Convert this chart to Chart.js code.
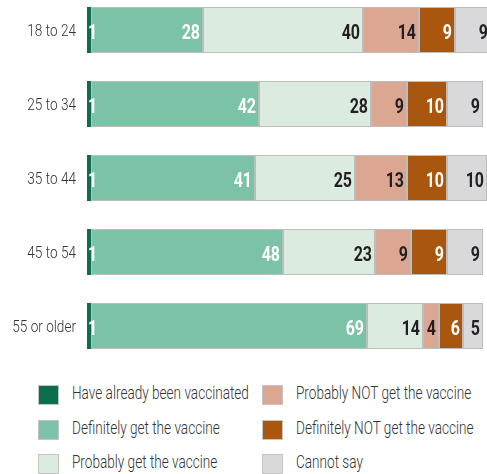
<!DOCTYPE html>
<html>
<head>
<meta charset="utf-8">
<script src="https://cdn.jsdelivr.net/npm/chart.js@4.4.1/dist/chart.umd.min.js"></script>
<style>
  html, body { margin: 0; padding: 0; background: #fff; overflow: hidden; width: 487px; height: 474px; }
  #graf { position: absolute; left: 0; top: -7px; }
  #leyenda { position: absolute; left: 38px; top: 385px; width: 449px; font-family: Roboto, sans-serif; font-weight: 300; font-size: 18px; color: #333; }
  .item { position: absolute; height: 20px; line-height: 20px; white-space: nowrap; }
  .cuadro { position: absolute; left: 0; top: 0; width: 21px; height: 20px; border: 1px solid #c4c4c4; box-sizing: border-box; }
  .texto { position: absolute; left: 34px; top: -2px; transform: scaleX(0.755); transform-origin: left center; }
</style>
</head>
<body>
<canvas id="graf" width="487" height="370"></canvas>
<div id="leyenda"></div>
<script>
/*Datos*/
const grupos = ["18 to 24", "25 to 34", "35 to 44", "45 to 54", "55 or older"]
const series = ["Have already been vaccinated", "Definitely get the vaccine", "Probably get the vaccine",
  "Probably NOT get the vaccine", "Definitely NOT get the vaccine", "Cannot say"]
const yaVacunado = [1, 1, 1, 1, 1]
const definitivamenteSi = [28, 42, 41, 48, 69]
const probablementeSi = [40, 28, 25, 23, 14]
const probablementeNo = [14, 9, 13, 9, 4]
const definitivamenteNo = [9, 10, 10, 9, 6]
const noSabe = [9, 9, 10, 9, 5]

const valores = [yaVacunado, definitivamenteSi, probablementeSi, probablementeNo, definitivamenteNo, noSabe]
const colores = ["#0b6e4f", "#7cc2a7", "#dcebdf", "#dba793", "#a9570e", "#d9d9db"]
const blancos = [true, true, false, false, true, false]

//texto comprimido a lo ancho
function TextoEstrecho(ctx, txt, x, y, alinear, factor) {
  ctx.save()
  ctx.translate(x, y)
  ctx.scale(factor, 1)
  ctx.textAlign = alinear
  ctx.fillText(txt, 0, 0)
  ctx.restore()
}

//etiquetas de grupos y valores dentro de cada barra
const etiquetas = {
  id: "etiquetas",
  afterDatasetsDraw(chart) {
    const ctx = chart.ctx
    const ejeY = chart.scales.y
    ctx.save()
    ctx.textBaseline = "alphabetic"
    ctx.font = "300 16px Roboto, sans-serif"
    ctx.fillStyle = "#333333"
    grupos.forEach((g, j) => {
      TextoEstrecho(ctx, g, 76, ejeY.getPixelForValue(j) + 5.5, "right", 0.85)
    })
    ctx.font = "bold 20px Roboto, sans-serif"
    chart.data.datasets.forEach((ds, i) => {
      let meta = chart.getDatasetMeta(i)
      meta.data.forEach((barra, j) => {
        ctx.fillStyle = blancos[i] ? "#ffffff" : "#231f20"
        if (i == 0) {
          TextoEstrecho(ctx, ds.data[j], barra.base + 1, barra.y + 8.5, "left", 0.8)
        } else {
          TextoEstrecho(ctx, ds.data[j], barra.x - 3, barra.y + 8.5, "right", 0.8)
        }
      })
    })
    ctx.restore()
  }
}

let graf = new Chart("graf", {
  type: "bar",
  data: {
    labels: grupos,
    datasets: series.map((s, i) => ({
      label: s,
      data: valores[i],
      backgroundColor: colores[i],
      borderColor: "#bdbdbd",
      borderWidth: i == 0 ? 0 : 1,
      borderSkipped: false,
      barPercentage: 0.622,
      categoryPercentage: 1,
      clip: false
    }))
  },
  options: {
    indexAxis: "y",
    responsive: false,
    animation: false,
    layout: { padding: 0 },
    plugins: { legend: { display: false }, tooltip: { enabled: false } },
    scales: {
      x: { stacked: true, min: 0, max: 100, display: false },
      y: {
        stacked: true,
        grid: { display: false },
        border: { display: false },
        ticks: { display: false },
        afterFit(eje) {
          eje.width = 87
          eje.paddingTop = 0
          eje.paddingBottom = 0
        }
      }
    }
  },
  plugins: [etiquetas]
})

//leyenda en dos columnas
const leyenda = document.getElementById("leyenda")
series.forEach((s, i) => {
  let item = document.createElement("div")
  item.className = "item"
  item.style.left = (i < 3 ? 0 : 224) + "px"
  item.style.top = (i % 3) * 34.5 + "px"
  item.innerHTML = `<span class="cuadro" style="background:${colores[i]}"></span><span class="texto">${s}</span>`
  leyenda.appendChild(item)
})
</script>
</body>
</html>
